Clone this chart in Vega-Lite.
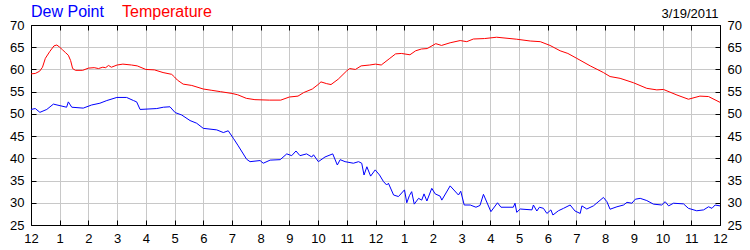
{
  "$schema": "https://vega.github.io/schema/vega-lite/v6.json",
  "width": 689,
  "height": 200,
  "autosize": {"type": "none"},
  "padding": {"left": 31, "top": 25, "right": 30, "bottom": 25},
  "background": "white",
  "title": {"text": "3/19/2011", "anchor": "end", "fontSize": 13, "fontWeight": "normal", "font": "Liberation Sans", "color": "#000000", "offset": 1, "dx": -23, "dy": 28, "baseline": "alphabetic"},
  "config": {
    "view": {"stroke": null},
    "axis": {"labelFont": "Liberation Sans", "labelFontSize": 13, "labelColor": "#000000", "domainColor": "#000000", "tickColor": "#000000", "gridColor": "#c8c8c8", "gridOpacity": 1, "title": null}
  },
  "datasets": {
    "weather": [
      {"s": "Temperature", "h": 0, "v": 59.0},
      {"s": "Temperature", "h": 0.15, "v": 59.1},
      {"s": "Temperature", "h": 0.3, "v": 59.6},
      {"s": "Temperature", "h": 0.4, "v": 60.5},
      {"s": "Temperature", "h": 0.5, "v": 62.5},
      {"s": "Temperature", "h": 0.65, "v": 64.0},
      {"s": "Temperature", "h": 0.8, "v": 65.3},
      {"s": "Temperature", "h": 0.9, "v": 65.5},
      {"s": "Temperature", "h": 1.0, "v": 65.0},
      {"s": "Temperature", "h": 1.1, "v": 64.4},
      {"s": "Temperature", "h": 1.2, "v": 63.8},
      {"s": "Temperature", "h": 1.3, "v": 63.2},
      {"s": "Temperature", "h": 1.38, "v": 62.0},
      {"s": "Temperature", "h": 1.45, "v": 60.2},
      {"s": "Temperature", "h": 1.55, "v": 59.8},
      {"s": "Temperature", "h": 1.8, "v": 59.8},
      {"s": "Temperature", "h": 2.0, "v": 60.3},
      {"s": "Temperature", "h": 2.2, "v": 60.4},
      {"s": "Temperature", "h": 2.35, "v": 60.2},
      {"s": "Temperature", "h": 2.5, "v": 60.5},
      {"s": "Temperature", "h": 2.6, "v": 60.4},
      {"s": "Temperature", "h": 2.7, "v": 60.9},
      {"s": "Temperature", "h": 2.8, "v": 60.5},
      {"s": "Temperature", "h": 3.0, "v": 61.0},
      {"s": "Temperature", "h": 3.2, "v": 61.2},
      {"s": "Temperature", "h": 3.5, "v": 61.0},
      {"s": "Temperature", "h": 3.7, "v": 60.8},
      {"s": "Temperature", "h": 4.0, "v": 60.0},
      {"s": "Temperature", "h": 4.3, "v": 59.9},
      {"s": "Temperature", "h": 4.6, "v": 59.3},
      {"s": "Temperature", "h": 4.9, "v": 58.9},
      {"s": "Temperature", "h": 5.0, "v": 58.3},
      {"s": "Temperature", "h": 5.1, "v": 57.6},
      {"s": "Temperature", "h": 5.3, "v": 56.7},
      {"s": "Temperature", "h": 5.6, "v": 56.4},
      {"s": "Temperature", "h": 6.0, "v": 55.6},
      {"s": "Temperature", "h": 6.3, "v": 55.3},
      {"s": "Temperature", "h": 6.6, "v": 55.0},
      {"s": "Temperature", "h": 7.0, "v": 54.6},
      {"s": "Temperature", "h": 7.2, "v": 54.3},
      {"s": "Temperature", "h": 7.5, "v": 53.5},
      {"s": "Temperature", "h": 7.8, "v": 53.2},
      {"s": "Temperature", "h": 8.3, "v": 53.1},
      {"s": "Temperature", "h": 8.7, "v": 53.1},
      {"s": "Temperature", "h": 9.0, "v": 53.8},
      {"s": "Temperature", "h": 9.3, "v": 54.0},
      {"s": "Temperature", "h": 9.5, "v": 54.8},
      {"s": "Temperature", "h": 9.8, "v": 55.6},
      {"s": "Temperature", "h": 10.0, "v": 56.6},
      {"s": "Temperature", "h": 10.1, "v": 57.2},
      {"s": "Temperature", "h": 10.3, "v": 56.8},
      {"s": "Temperature", "h": 10.45, "v": 56.6},
      {"s": "Temperature", "h": 10.7, "v": 57.8},
      {"s": "Temperature", "h": 11.0, "v": 59.7},
      {"s": "Temperature", "h": 11.1, "v": 60.2},
      {"s": "Temperature", "h": 11.3, "v": 60.0},
      {"s": "Temperature", "h": 11.5, "v": 60.8},
      {"s": "Temperature", "h": 11.8, "v": 61.0},
      {"s": "Temperature", "h": 12.0, "v": 61.2},
      {"s": "Temperature", "h": 12.2, "v": 61.0},
      {"s": "Temperature", "h": 12.5, "v": 62.5},
      {"s": "Temperature", "h": 12.7, "v": 63.5},
      {"s": "Temperature", "h": 12.9, "v": 63.6},
      {"s": "Temperature", "h": 13.2, "v": 63.3},
      {"s": "Temperature", "h": 13.4, "v": 64.2},
      {"s": "Temperature", "h": 13.6, "v": 64.6},
      {"s": "Temperature", "h": 13.8, "v": 64.7},
      {"s": "Temperature", "h": 14.1, "v": 65.8},
      {"s": "Temperature", "h": 14.3, "v": 65.4},
      {"s": "Temperature", "h": 14.6, "v": 66.0},
      {"s": "Temperature", "h": 14.95, "v": 66.5},
      {"s": "Temperature", "h": 15.18, "v": 66.25},
      {"s": "Temperature", "h": 15.41, "v": 66.85},
      {"s": "Temperature", "h": 15.8, "v": 66.95},
      {"s": "Temperature", "h": 16.22, "v": 67.25},
      {"s": "Temperature", "h": 16.92, "v": 66.8},
      {"s": "Temperature", "h": 17.39, "v": 66.4},
      {"s": "Temperature", "h": 17.74, "v": 66.25},
      {"s": "Temperature", "h": 18.08, "v": 65.4},
      {"s": "Temperature", "h": 18.43, "v": 64.2},
      {"s": "Temperature", "h": 18.7, "v": 63.6},
      {"s": "Temperature", "h": 19.01, "v": 62.5},
      {"s": "Temperature", "h": 19.48, "v": 60.8},
      {"s": "Temperature", "h": 19.94, "v": 59.3},
      {"s": "Temperature", "h": 20.17, "v": 58.4},
      {"s": "Temperature", "h": 20.52, "v": 58.0},
      {"s": "Temperature", "h": 20.99, "v": 57.0},
      {"s": "Temperature", "h": 21.45, "v": 55.75},
      {"s": "Temperature", "h": 21.8, "v": 55.4},
      {"s": "Temperature", "h": 22.03, "v": 55.5},
      {"s": "Temperature", "h": 22.5, "v": 54.25},
      {"s": "Temperature", "h": 22.9, "v": 53.3},
      {"s": "Temperature", "h": 23.3, "v": 54.0},
      {"s": "Temperature", "h": 23.6, "v": 53.9},
      {"s": "Temperature", "h": 24.0, "v": 52.6},
      {"s": "Dew Point", "h": 0, "v": 51.0},
      {"s": "Dew Point", "h": 0.15, "v": 51.2},
      {"s": "Dew Point", "h": 0.31, "v": 50.35},
      {"s": "Dew Point", "h": 0.55, "v": 51.0},
      {"s": "Dew Point", "h": 0.78, "v": 52.2},
      {"s": "Dew Point", "h": 1.24, "v": 51.5},
      {"s": "Dew Point", "h": 1.3, "v": 52.7},
      {"s": "Dew Point", "h": 1.42, "v": 51.5},
      {"s": "Dew Point", "h": 1.82, "v": 51.3},
      {"s": "Dew Point", "h": 2.11, "v": 52.0},
      {"s": "Dew Point", "h": 2.4, "v": 52.4},
      {"s": "Dew Point", "h": 2.64, "v": 53.0},
      {"s": "Dew Point", "h": 2.99, "v": 53.7},
      {"s": "Dew Point", "h": 3.33, "v": 53.7},
      {"s": "Dew Point", "h": 3.57, "v": 53.0},
      {"s": "Dew Point", "h": 3.68, "v": 52.7},
      {"s": "Dew Point", "h": 3.8, "v": 51.0},
      {"s": "Dew Point", "h": 4.38, "v": 51.2},
      {"s": "Dew Point", "h": 4.61, "v": 51.5},
      {"s": "Dew Point", "h": 4.84, "v": 51.6},
      {"s": "Dew Point", "h": 5.02, "v": 50.3},
      {"s": "Dew Point", "h": 5.25, "v": 49.75},
      {"s": "Dew Point", "h": 5.54, "v": 48.5},
      {"s": "Dew Point", "h": 5.77, "v": 47.9},
      {"s": "Dew Point", "h": 6.0, "v": 46.75},
      {"s": "Dew Point", "h": 6.47, "v": 46.4},
      {"s": "Dew Point", "h": 6.7, "v": 45.8},
      {"s": "Dew Point", "h": 6.87, "v": 46.2},
      {"s": "Dew Point", "h": 7.05, "v": 44.5},
      {"s": "Dew Point", "h": 7.22, "v": 42.8},
      {"s": "Dew Point", "h": 7.51, "v": 39.8},
      {"s": "Dew Point", "h": 7.63, "v": 39.25},
      {"s": "Dew Point", "h": 7.98, "v": 39.5},
      {"s": "Dew Point", "h": 8.09, "v": 38.9},
      {"s": "Dew Point", "h": 8.33, "v": 39.6},
      {"s": "Dew Point", "h": 8.68, "v": 39.7},
      {"s": "Dew Point", "h": 8.91, "v": 41.0},
      {"s": "Dew Point", "h": 9.08, "v": 40.6},
      {"s": "Dew Point", "h": 9.23, "v": 41.65},
      {"s": "Dew Point", "h": 9.37, "v": 40.6},
      {"s": "Dew Point", "h": 9.6, "v": 41.0},
      {"s": "Dew Point", "h": 9.78, "v": 40.3},
      {"s": "Dew Point", "h": 9.84, "v": 40.8},
      {"s": "Dew Point", "h": 10.01, "v": 39.25},
      {"s": "Dew Point", "h": 10.24, "v": 40.3},
      {"s": "Dew Point", "h": 10.51, "v": 41.0},
      {"s": "Dew Point", "h": 10.67, "v": 38.5},
      {"s": "Dew Point", "h": 10.77, "v": 39.7},
      {"s": "Dew Point", "h": 10.94, "v": 39.25},
      {"s": "Dew Point", "h": 11.23, "v": 38.9},
      {"s": "Dew Point", "h": 11.41, "v": 39.25},
      {"s": "Dew Point", "h": 11.52, "v": 38.9},
      {"s": "Dew Point", "h": 11.6, "v": 36.25},
      {"s": "Dew Point", "h": 11.7, "v": 38.1},
      {"s": "Dew Point", "h": 11.83, "v": 36.0},
      {"s": "Dew Point", "h": 11.99, "v": 37.4},
      {"s": "Dew Point", "h": 12.14, "v": 36.25},
      {"s": "Dew Point", "h": 12.28, "v": 34.75},
      {"s": "Dew Point", "h": 12.39, "v": 34.0},
      {"s": "Dew Point", "h": 12.45, "v": 34.4},
      {"s": "Dew Point", "h": 12.63, "v": 31.75},
      {"s": "Dew Point", "h": 12.8, "v": 31.4},
      {"s": "Dew Point", "h": 13.01, "v": 32.9},
      {"s": "Dew Point", "h": 13.09, "v": 30.0},
      {"s": "Dew Point", "h": 13.18, "v": 31.6},
      {"s": "Dew Point", "h": 13.26, "v": 32.5},
      {"s": "Dew Point", "h": 13.35, "v": 29.7},
      {"s": "Dew Point", "h": 13.5, "v": 31.0},
      {"s": "Dew Point", "h": 13.61, "v": 30.6},
      {"s": "Dew Point", "h": 13.69, "v": 32.0},
      {"s": "Dew Point", "h": 13.79, "v": 30.4},
      {"s": "Dew Point", "h": 13.96, "v": 33.25},
      {"s": "Dew Point", "h": 14.08, "v": 32.0},
      {"s": "Dew Point", "h": 14.25, "v": 31.5},
      {"s": "Dew Point", "h": 14.31, "v": 30.6},
      {"s": "Dew Point", "h": 14.6, "v": 33.8},
      {"s": "Dew Point", "h": 14.89, "v": 31.75},
      {"s": "Dew Point", "h": 14.97, "v": 32.6},
      {"s": "Dew Point", "h": 15.09, "v": 29.5},
      {"s": "Dew Point", "h": 15.3, "v": 29.5},
      {"s": "Dew Point", "h": 15.5, "v": 29.0},
      {"s": "Dew Point", "h": 15.64, "v": 29.4},
      {"s": "Dew Point", "h": 15.76, "v": 31.9},
      {"s": "Dew Point", "h": 16.02, "v": 28.0},
      {"s": "Dew Point", "h": 16.25, "v": 30.0},
      {"s": "Dew Point", "h": 16.37, "v": 29.0},
      {"s": "Dew Point", "h": 16.8, "v": 29.0},
      {"s": "Dew Point", "h": 16.86, "v": 29.9},
      {"s": "Dew Point", "h": 16.92, "v": 27.85},
      {"s": "Dew Point", "h": 17.04, "v": 28.6},
      {"s": "Dew Point", "h": 17.45, "v": 28.4},
      {"s": "Dew Point", "h": 17.5, "v": 29.5},
      {"s": "Dew Point", "h": 17.62, "v": 28.15},
      {"s": "Dew Point", "h": 17.71, "v": 29.0},
      {"s": "Dew Point", "h": 17.85, "v": 28.75},
      {"s": "Dew Point", "h": 17.97, "v": 27.6},
      {"s": "Dew Point", "h": 18.11, "v": 28.4},
      {"s": "Dew Point", "h": 18.18, "v": 27.25},
      {"s": "Dew Point", "h": 18.37, "v": 28.2},
      {"s": "Dew Point", "h": 18.55, "v": 28.75},
      {"s": "Dew Point", "h": 18.78, "v": 29.5},
      {"s": "Dew Point", "h": 18.95, "v": 28.15},
      {"s": "Dew Point", "h": 19.13, "v": 27.6},
      {"s": "Dew Point", "h": 19.19, "v": 29.3},
      {"s": "Dew Point", "h": 19.36, "v": 28.6},
      {"s": "Dew Point", "h": 19.59, "v": 29.3},
      {"s": "Dew Point", "h": 19.94, "v": 31.2},
      {"s": "Dew Point", "h": 20.06, "v": 30.25},
      {"s": "Dew Point", "h": 20.17, "v": 28.55},
      {"s": "Dew Point", "h": 20.41, "v": 29.1},
      {"s": "Dew Point", "h": 20.64, "v": 29.5},
      {"s": "Dew Point", "h": 20.76, "v": 30.1},
      {"s": "Dew Point", "h": 20.93, "v": 29.9},
      {"s": "Dew Point", "h": 21.05, "v": 30.8},
      {"s": "Dew Point", "h": 21.22, "v": 31.0},
      {"s": "Dew Point", "h": 21.45, "v": 30.5},
      {"s": "Dew Point", "h": 21.68, "v": 29.7},
      {"s": "Dew Point", "h": 21.97, "v": 29.5},
      {"s": "Dew Point", "h": 22.09, "v": 30.25},
      {"s": "Dew Point", "h": 22.21, "v": 29.3},
      {"s": "Dew Point", "h": 22.38, "v": 29.9},
      {"s": "Dew Point", "h": 22.73, "v": 29.75},
      {"s": "Dew Point", "h": 22.9, "v": 28.75},
      {"s": "Dew Point", "h": 23.19, "v": 28.2},
      {"s": "Dew Point", "h": 23.43, "v": 28.4},
      {"s": "Dew Point", "h": 23.6, "v": 29.1},
      {"s": "Dew Point", "h": 23.72, "v": 28.75},
      {"s": "Dew Point", "h": 23.83, "v": 29.5},
      {"s": "Dew Point", "h": 24.0, "v": 29.3}
    ]
  },
  "data": {"name": "weather"},
  "encoding": {
    "x": {"field": "h", "type": "quantitative", "scale": {"domain": [0, 24], "nice": false, "zero": false}},
    "y": {"field": "v", "type": "quantitative", "scale": {"domain": [25, 70], "nice": false, "zero": false}},
    "color": {
      "field": "s", "type": "nominal",
      "scale": {"domain": ["Dew Point", "Temperature"], "range": ["#0000ff", "#ff0000"]},
      "legend": {
        "orient": "none", "legendX": -16, "legendY": -21, "direction": "horizontal",
        "title": null, "symbolSize": 0, "symbolOpacity": 0, "symbolStrokeWidth": 0,
        "labelOffset": 0, "columnPadding": 2, "labelFont": "Liberation Sans", "labelFontSize": 16,
        "encode": {"labels": {"update": {"fill": {"signal": "datum.value == 'Dew Point' ? '#0000ff' : '#ff0000'"}}}}
      }
    }
  },
  "layer": [
    {
      "transform": [{"filter": "datum.s == 'Dew Point'"}],
      "mark": {"type": "line", "strokeWidth": 1, "interpolate": "linear"},
      "encoding": {
        "x": {"field": "h", "type": "quantitative", "axis": {"orient": "bottom", "values": [0,1,2,3,4,5,6,7,8,9,10,11,12,13,14,15,16,17,18,19,20,21,22,23,24], "labelExpr": "datum.value % 12 == 0 ? '12' : '' + (datum.value % 12)", "tickSize": -5, "labelPadding": 12, "grid": true, "labelFlush": false}},
        "y": {"field": "v", "type": "quantitative", "axis": {"orient": "left", "values": [25,30,35,40,45,50,55,60,65,70], "tickSize": -5, "labelPadding": 12, "grid": true}}
      }
    },
    {
      "transform": [{"filter": "datum.s == 'Temperature'"}],
      "mark": {"type": "line", "strokeWidth": 1, "interpolate": "linear"},
      "encoding": {
        "x": {"field": "h", "type": "quantitative", "axis": {"orient": "top", "values": [0,1,2,3,4,5,6,7,8,9,10,11,12,13,14,15,16,17,18,19,20,21,22,23,24], "labels": false, "tickSize": -5, "grid": false}},
        "y": {"field": "v", "type": "quantitative", "axis": {"orient": "right", "values": [25,30,35,40,45,50,55,60,65,70], "tickSize": -5, "labelPadding": 12, "grid": false}}
      }
    }
  ],
  "resolve": {"axis": {"x": "independent", "y": "independent"}, "scale": {"x": "shared", "y": "shared"}}
}
